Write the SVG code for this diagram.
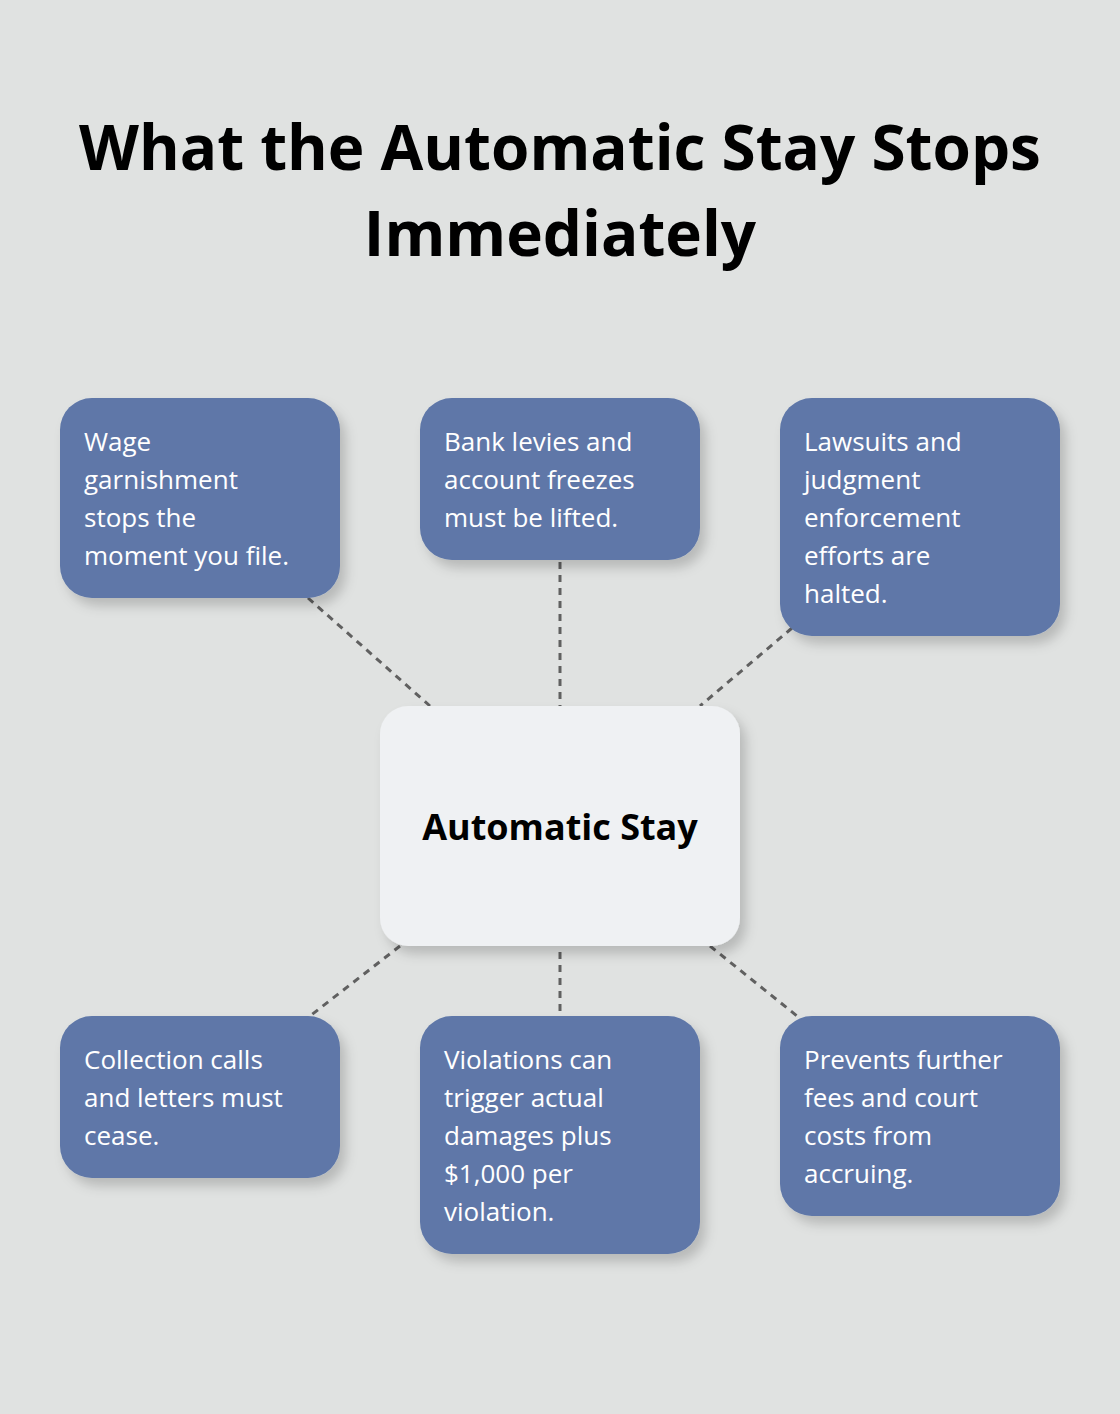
<svg xmlns="http://www.w3.org/2000/svg" width="1120" height="1414" viewBox="0 0 1120 1414">
<style>
.t{font-family:"Open Sans","Liberation Sans",sans-serif;}
.box{fill:#5e77a8;}
.lbl{font-family:"Open Sans","Liberation Sans",sans-serif;font-size:26px;fill:#ffffff;}
.c{stroke:#606060;stroke-width:3;stroke-dasharray:7 6;fill:none;}
</style>
<defs>
<filter id="sh" x="-20%" y="-20%" width="150%" height="150%">
<feDropShadow dx="6" dy="8" stdDeviation="6" flood-color="#000" flood-opacity="0.18"/>
</filter>
</defs>
<rect width="1120" height="1414" fill="#e0e2e1"/>
<text class="t" x="560" y="170" text-anchor="middle" font-size="62" font-weight="bold" fill="#000">What the Automatic Stay Stops</text>
<text class="t" x="560" y="256" text-anchor="middle" font-size="62" font-weight="bold" fill="#000">Immediately</text>
<g id="connectors">
<line class="c" x1="308" y1="598" x2="430" y2="706"/>
<line class="c" x1="560" y1="562" x2="560" y2="706"/>
<line class="c" x1="792" y1="628" x2="700" y2="706"/>
<line class="c" x1="400" y1="946" x2="310" y2="1016"/>
<line class="c" x1="560" y1="952" x2="560" y2="1016"/>
<line class="c" x1="710" y1="946" x2="802" y2="1020"/>
</g>
<g id="center"><rect x="380" y="706" width="360" height="240" rx="28" fill="#eff1f3" filter="url(#sh)"/>
<text class="t" x="560" y="840" text-anchor="middle" font-size="36" font-weight="bold" fill="#000">Automatic Stay</text></g>
<g id="n1"><rect class="box" x="60" y="398" width="280" height="200" rx="32" filter="url(#sh)"/>
<text class="lbl" x="84" y="451"><tspan x="84">Wage</tspan><tspan x="84" dy="38">garnishment</tspan><tspan x="84" dy="38">stops the</tspan><tspan x="84" dy="38">moment you file.</tspan></text></g>
<g id="n2"><rect class="box" x="420" y="398" width="280" height="162" rx="32" filter="url(#sh)"/>
<text class="lbl" x="444" y="451"><tspan x="444">Bank levies and</tspan><tspan x="444" dy="38">account freezes</tspan><tspan x="444" dy="38">must be lifted.</tspan></text></g>
<g id="n3"><rect class="box" x="780" y="398" width="280" height="238" rx="32" filter="url(#sh)"/>
<text class="lbl" x="804" y="451"><tspan x="804">Lawsuits and</tspan><tspan x="804" dy="38">judgment</tspan><tspan x="804" dy="38">enforcement</tspan><tspan x="804" dy="38">efforts are</tspan><tspan x="804" dy="38">halted.</tspan></text></g>
<g id="n4"><rect class="box" x="60" y="1016" width="280" height="162" rx="32" filter="url(#sh)"/>
<text class="lbl" x="84" y="1069"><tspan x="84">Collection calls</tspan><tspan x="84" dy="38">and letters must</tspan><tspan x="84" dy="38">cease.</tspan></text></g>
<g id="n5"><rect class="box" x="420" y="1016" width="280" height="238" rx="32" filter="url(#sh)"/>
<text class="lbl" x="444" y="1069"><tspan x="444">Violations can</tspan><tspan x="444" dy="38">trigger actual</tspan><tspan x="444" dy="38">damages plus</tspan><tspan x="444" dy="38">$1,000 per</tspan><tspan x="444" dy="38">violation.</tspan></text></g>
<g id="n6"><rect class="box" x="780" y="1016" width="280" height="200" rx="32" filter="url(#sh)"/>
<text class="lbl" x="804" y="1069"><tspan x="804">Prevents further</tspan><tspan x="804" dy="38">fees and court</tspan><tspan x="804" dy="38">costs from</tspan><tspan x="804" dy="38">accruing.</tspan></text></g>
</svg>
